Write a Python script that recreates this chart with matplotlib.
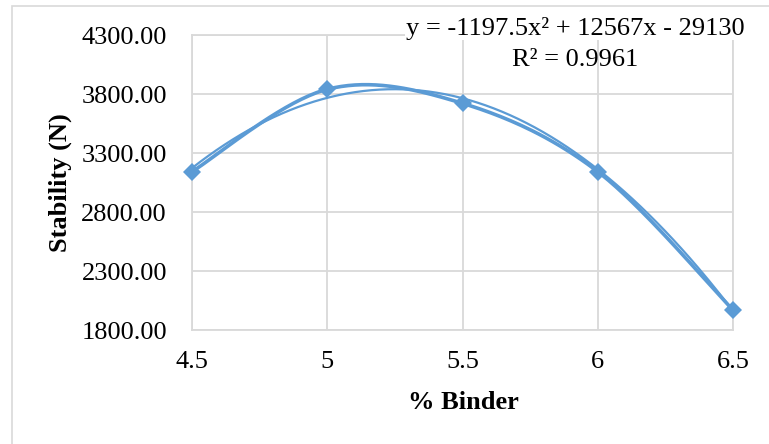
import numpy as np
import matplotlib
matplotlib.use("Agg")
import matplotlib.pyplot as plt

# Marshall stability vs. binder content
binder = [4.5, 5.0, 5.5, 6.0, 6.5]
stability = [3142, 3840, 3721, 3142, 1969]

# Published quadratic trendline
coef = [-1197.5, 12567, -29130]
r_squared = 0.9961

x_ticks = [4.5, 5, 5.5, 6, 6.5]
x_ticklabels = ["4.5", "5", "5.5", "6", "6.5"]
y_ticks = [1800, 2300, 2800, 3300, 3800, 4300]

BLUE = "#5B9BD5"
GRID = "#D9D9D9"

plt.rcParams["font.family"] = ["Liberation Serif", "DejaVu Serif"]


def smooth_curve(xs, ys, n=40):
    """Catmull-Rom style bezier smoothing between consecutive points."""
    xs = np.asarray(xs, float)
    ys = np.asarray(ys, float)
    pts = np.column_stack([xs, ys])
    out = []
    for i in range(len(pts) - 1):
        p0 = pts[i - 1] if i > 0 else pts[i]
        p1 = pts[i]
        p2 = pts[i + 1]
        p3 = pts[i + 2] if i + 2 < len(pts) else pts[i + 1]
        c1 = p1 + (p2 - p0) / 6.0
        c2 = p2 - (p3 - p1) / 6.0
        t = np.linspace(0, 1, n)[:, None]
        seg = ((1 - t) ** 3) * p1 + 3 * ((1 - t) ** 2) * t * c1 \
            + 3 * (1 - t) * t ** 2 * c2 + t ** 3 * p2
        out.append(seg if i == 0 else seg[1:])
    seg = np.vstack(out)
    return seg[:, 0], seg[:, 1]


fig = plt.figure(figsize=(7.69, 4.44), dpi=100)
ax = fig.add_axes([192 / 769, 1 - 330 / 444, (733 - 192) / 769, (330 - 35) / 444])

# chart outer frame
frame = plt.Rectangle((11.5 / 769, -0.1), 1.2, 1 - 6.5 / 444 + 0.1,
                      transform=fig.transFigure, fill=False,
                      edgecolor=GRID, linewidth=1.2)
fig.patches.append(frame)

# trendline
xt = np.linspace(binder[0], binder[-1], 200)
yt = np.polyval(coef, xt)
ax.plot(xt, yt, color=BLUE, linewidth=1.6, zorder=3)

# smoothed data series
xs, ys = smooth_curve(binder, stability)
ax.plot(xs, ys, color=BLUE, linewidth=2.6, zorder=4, solid_capstyle="round")
ax.plot(binder, stability, linestyle="none", marker="D", markersize=9,
        color=BLUE, markeredgewidth=0, zorder=5, clip_on=False)

ax.set_xlim(4.5, 6.5)
ax.set_ylim(1800, 4300)
ax.set_xticks(x_ticks)
ax.set_xticklabels(x_ticklabels)
ax.set_yticks(y_ticks)
ax.set_yticklabels([f"{v:.2f}" for v in y_ticks])
ax.grid(True, color=GRID, linewidth=1.3, zorder=0)
ax.set_axisbelow(True)
for s in ax.spines.values():
    s.set_color(GRID)
    s.set_linewidth(1.3)
ax.tick_params(axis="both", length=0, colors="black")
ax.tick_params(axis="y", labelsize=19, pad=18)
ax.tick_params(axis="x", labelsize=19, pad=15)

fig.text(463 / 769, 1 - 402 / 444, "% Binder", ha="center", va="center",
         fontsize=19, fontweight="bold")
fig.text(60 / 769, 1 - 183 / 444, "Stability (N)", ha="center", va="center",
         rotation=90, fontsize=19, fontweight="bold")

fig.text(575 / 769, 1 - 28 / 444,
         "y = -1197.5x\u00b2 + 12567x - 29130", ha="center", va="center",
         fontsize=19, zorder=10,
         bbox=dict(facecolor="white", edgecolor="none", pad=0.5))
fig.text(575 / 769, 1 - 60 / 444, f"R\u00b2 = {r_squared}", ha="center",
         va="center", fontsize=19, zorder=10)

fig.savefig("out.png", dpi=100)
